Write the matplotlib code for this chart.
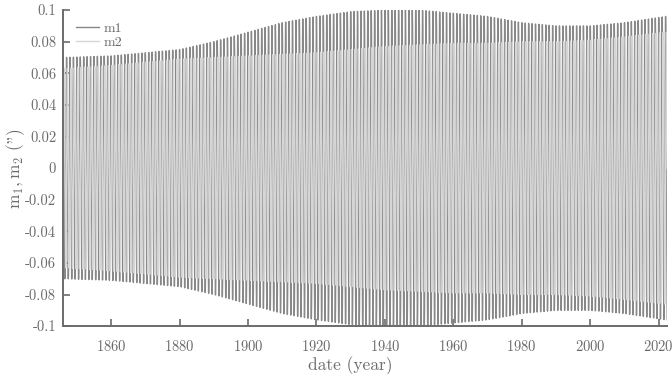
import numpy as np
import matplotlib
matplotlib.use("Agg")
import matplotlib.pyplot as plt
from matplotlib.ticker import FuncFormatter

plt.rcParams['font.family'] = ['cmr10', 'DejaVu Serif']
plt.rcParams['mathtext.fontset'] = 'cm'
plt.rcParams['axes.unicode_minus'] = False
plt.rcParams['axes.formatter.use_mathtext'] = True

# envelope (amplitude in arcsec)
env_year = [1846, 1860, 1880, 1890, 1900, 1910, 1920, 1930, 1940, 1950,
            1960, 1970, 1980, 1990, 2000, 2010, 2022]
m1_amp = [0.070, 0.071, 0.075, 0.080, 0.086, 0.092, 0.096, 0.099, 0.100, 0.100,
          0.098, 0.096, 0.092, 0.090, 0.090, 0.092, 0.096]
m2_amp = [0.063, 0.065, 0.069, 0.070, 0.071, 0.072, 0.073, 0.075, 0.077, 0.078,
          0.079, 0.079, 0.080, 0.080, 0.081, 0.083, 0.086]
period = 1.0  # years, one wobble per stripe

t = np.arange(1846.0, 2022.6, period / 40)
a1 = np.interp(t, env_year, m1_amp)
a2 = np.interp(t, env_year, m2_amp)
m1 = a1 * np.cos(2 * np.pi * t / period)
m2 = a2 * np.sin(2 * np.pi * t / period)

grey = '#6b6b6b'
fig = plt.figure(figsize=(6.72, 3.74), dpi=100)
ax = fig.add_axes([0.094, 0.128, 0.899, 0.845])
ax.plot(t, m1, color='#888888', lw=1.0, label='m1')
ax.plot(t, m2, color='#d6d6d6', lw=1.0, label='m2')

ax.set_xlim(1846, 2022.5)
ax.set_ylim(-0.1, 0.1)
ax.set_xticks(np.arange(1860, 2021, 20))
ax.set_yticks(np.round(np.arange(-0.1, 0.1001, 0.02), 2))
ax.yaxis.set_major_formatter(FuncFormatter(lambda v, p: '%g' % round(v, 2)))

for s in ['top', 'right']:
    ax.spines[s].set_visible(False)
for s in ['left', 'bottom']:
    ax.spines[s].set_color(grey)
    ax.spines[s].set_linewidth(1.4)
ax.tick_params(direction='in', length=5, width=1.2, color=grey,
               labelcolor=grey, labelsize=10.5)
ax.tick_params(axis='x', pad=9)
ax.tick_params(axis='y', pad=5)

ax.set_xlabel('date (year)', color=grey, fontsize=12.5)
ax.xaxis.set_label_coords(0.475, -0.095)
ax.set_ylabel(r'$\mathrm{m_1,m_2}$ (")', color=grey, fontsize=12.5)
ax.yaxis.set_label_coords(-0.06, 0.5)

leg = ax.legend(loc='upper left', frameon=False, fontsize=10, handlelength=1.7,
                handletextpad=0.3, labelspacing=0.05, borderaxespad=0.5)
for txt in leg.get_texts():
    txt.set_color(grey)

fig.savefig('out.png', dpi=100)
